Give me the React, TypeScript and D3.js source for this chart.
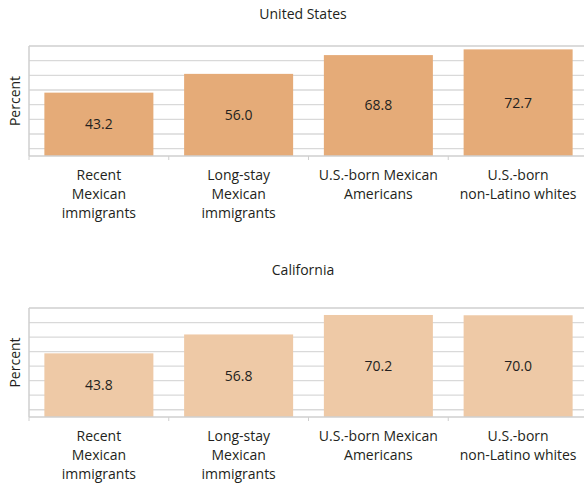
import React from "react";
import * as d3 from "d3";

const categories = [
  ["Recent", "Mexican", "immigrants"],
  ["Long-stay", "Mexican", "immigrants"],
  ["U.S.-born Mexican", "Americans"],
  ["U.S.-born", "non-Latino whites"],
];
const usValues = [43.2, 56.0, 68.8, 72.7];
const caValues = [43.8, 56.8, 70.2, 70.0];
const gridTicks = [5, 15, 25, 35, 45, 55, 65];
const panels = [
  { title: "United States", values: usValues, color: "#e5ab78", top: 46, bottom: 156, titleY: 19 },
  { title: "California", values: caValues, color: "#eec9a6", top: 308, bottom: 417, titleY: 275 },
];

const FONT = "'Open Sans', 'Noto Sans', sans-serif";
const FS = 14;
const W = 584;
const H = 484;
const left = 29;
const right = 588;

function Panel({ p }: { p: any }) {
  const keys = categories.map((_, i) => String(i));
  const x = d3.scaleBand().domain(keys).range([left, right]).paddingInner(0.22).paddingOuter(0.11);
  const y = d3.scaleLinear().domain([0, 75]).range([p.bottom, p.top]);
  const step = x.step();
  const bounds = d3.range(keys.length + 1).map((i) => left + i * step);

  return (
    <g>
      <text x={303} y={p.titleY} textAnchor="middle" fontSize={FS} fill="#231f20" fontFamily={FONT}>
        {p.title}
      </text>
      {gridTicks.map((t) => (
        <line key={t} x1={left} x2={right} y1={y(t)} y2={y(t)} stroke="#d9d9d9" strokeWidth={1.3} />
      ))}
      <line x1={left} x2={right} y1={y(75)} y2={y(75)} stroke="#cfcfcf" strokeWidth={1.5} />
      {p.values.map((v: number, i: number) => (
        <g key={i}>
          <rect x={x(String(i))} y={y(v)} width={x.bandwidth()} height={y(0) - y(v)} fill={p.color} />
          <text
            x={(x(String(i)) as number) + x.bandwidth() / 2}
            y={(y(v) + y(0)) / 2}
            dy="0.35em"
            textAnchor="middle"
            fontSize={FS}
            fill="#231f20"
            fontFamily={FONT}
          >
            {v.toFixed(1)}
          </text>
        </g>
      ))}
      <line x1={left} x2={left} y1={y(75)} y2={y(0)} stroke="#cfcfcf" strokeWidth={1.5} />
      <line x1={left} x2={right} y1={y(0)} y2={y(0)} stroke="#cfcfcf" strokeWidth={1.5} />
      {bounds.map((b, i) => (
        <line key={i} x1={b} x2={b} y1={y(0)} y2={y(0) + 4} stroke="#cfcfcf" strokeWidth={1} />
      ))}
      <text
        transform={`translate(20, ${(p.top + p.bottom) / 2}) rotate(-90)`}
        textAnchor="middle"
        fontSize={FS}
        fill="#231f20"
        fontFamily={FONT}
      >
        Percent
      </text>
      {categories.map((lines, i) => (
        <text
          key={i}
          x={(x(String(i)) as number) + x.bandwidth() / 2}
          y={p.bottom + 24}
          textAnchor="middle"
          fontSize={FS}
          fill="#231f20"
          fontFamily={FONT}
        >
          {lines.map((l, j) => (
            <tspan key={j} x={(x(String(i)) as number) + x.bandwidth() / 2} dy={j === 0 ? 0 : 19}>
              {l}
            </tspan>
          ))}
        </text>
      ))}
    </g>
  );
}

export default function App() {
  return (
    <svg width={W} height={H} style={{ position: "absolute", left: 0, top: 0, background: "#fff" }}>
      {panels.map((p) => (
        <Panel key={p.title} p={p} />
      ))}
    </svg>
  );
}
